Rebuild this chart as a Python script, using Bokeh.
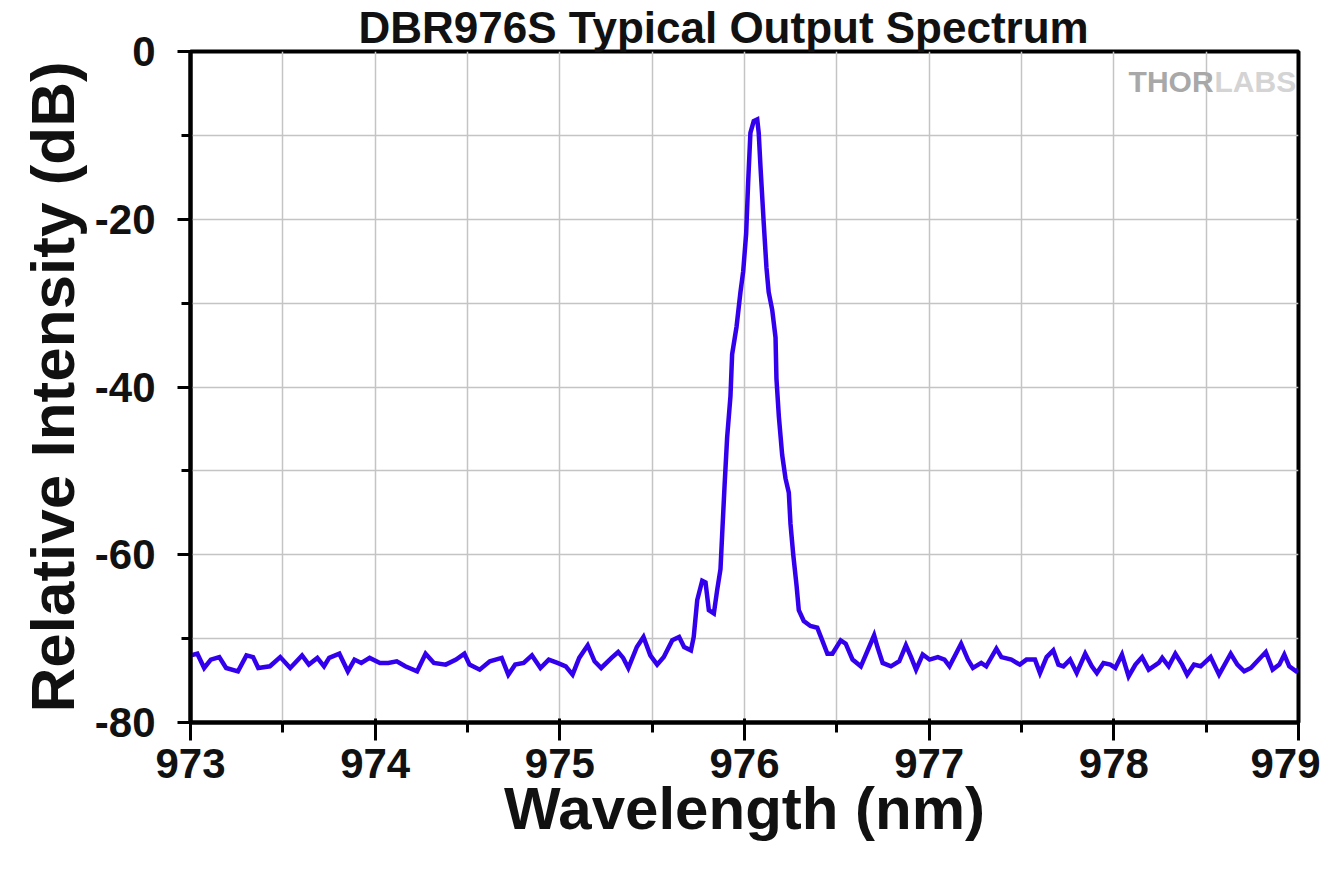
from bokeh.plotting import figure
from bokeh.models import FixedTicker, Range1d, Label, ColumnDataSource
from bokeh.embed import file_html
from bokeh.resources import INLINE

title_text = "DBR976S Typical Output Spectrum"
x_label = "Wavelength (nm)"
y_label = "Relative Intensity (dB)"

x_ticks = [973, 974, 975, 976, 977, 978, 979]
x_minor = [973.5, 974.5, 975.5, 976.5, 977.5, 978.5]
y_ticks = [-80, -60, -40, -20, 0]
y_minor = [-70, -50, -30, -10]
y_tick_text = {-80: "-80", -60: "-60", -40: "-40", -20: "-20", 0: "0"}

# noise floor, short-wavelength side
wl_left = [973.000, 973.037, 973.074, 973.110, 973.156, 973.193, 973.257, 973.303, 973.339, 973.367,
           973.430, 973.486, 973.540, 973.604, 973.641, 973.687, 973.723, 973.751, 973.806, 973.852,
           973.888, 973.925, 973.970, 974.026, 974.071, 974.117, 974.163, 974.227, 974.273, 974.318,
           974.382, 974.438, 974.483, 974.511, 974.566, 974.621, 974.685, 974.721, 974.758, 974.804,
           974.849, 974.895, 974.940, 974.987, 975.032, 975.069, 975.105, 975.151, 975.188, 975.224,
           975.280, 975.316, 975.343, 975.371, 975.417, 975.453, 975.490, 975.527, 975.563, 975.609,
           975.646, 975.673, 975.710]
db_left = [-72.0, -71.8, -73.5, -72.5, -72.2, -73.5, -73.9, -72.0, -72.2, -73.5,
           -73.3, -72.2, -73.5, -72.0, -73.1, -72.3, -73.3, -72.3, -71.8, -73.9,
           -72.5, -72.9, -72.3, -72.9, -72.9, -72.7, -73.3, -73.9, -71.8, -72.9,
           -73.1, -72.5, -71.8, -73.1, -73.7, -72.7, -72.3, -74.3, -73.1, -72.9,
           -72.0, -73.5, -72.5, -72.9, -73.3, -74.3, -72.3, -70.8, -72.7, -73.5,
           -72.3, -71.6, -72.3, -73.5, -71.0, -69.8, -72.0, -73.1, -72.2, -70.2,
           -69.8, -71.0, -71.4]

# main lasing peak
wl_peak = [975.725, 975.744, 975.771, 975.789, 975.807, 975.834, 975.852, 975.870, 975.879, 975.892,
           975.906, 975.924, 975.933, 975.957, 975.978, 975.993, 976.009, 976.020, 976.032, 976.050,
           976.069, 976.077, 976.087, 976.104, 976.119, 976.131, 976.150, 976.168, 976.173, 976.186,
           976.204, 976.222, 976.240, 976.249, 976.264, 976.282, 976.294, 976.321, 976.357, 976.394]
db_peak = [-69.8, -65.4, -63.1, -63.3, -66.6, -67.0, -64.2, -61.7, -57.6, -51.8,
           -46.0, -41.1, -36.1, -32.8, -28.7, -26.2, -21.7, -15.5, -9.7, -8.3,
           -8.1, -9.7, -13.9, -20.4, -25.8, -28.7, -30.8, -34.1, -39.0, -43.5,
           -48.1, -50.9, -52.6, -56.3, -60.0, -63.7, -66.6, -67.9, -68.5, -68.7]

# noise floor, long-wavelength side
wl_right = [976.421, 976.449, 976.476, 976.521, 976.548, 976.585, 976.630, 976.675, 976.702, 976.720,
            976.748, 976.793, 976.838, 976.874, 976.902, 976.929, 976.965, 977.002, 977.047, 977.083,
            977.110, 977.173, 977.210, 977.237, 977.282, 977.309, 977.364, 977.391, 977.445, 977.491,
            977.527, 977.573, 977.600, 977.636, 977.672, 977.700, 977.727, 977.763, 977.799, 977.845,
            977.881, 977.908, 977.944, 977.981, 978.008, 978.044, 978.080, 978.117, 978.153, 978.189,
            978.243, 978.262, 978.297, 978.333, 978.370, 978.397, 978.434, 978.470, 978.524, 978.570,
            978.633, 978.669, 978.706, 978.742, 978.823, 978.860, 978.896, 978.923, 978.950, 978.987,
            979.000]
db_right = [-70.2, -71.8, -71.8, -70.2, -70.6, -72.5, -73.3, -71.0, -69.6, -71.0,
            -72.9, -73.3, -72.7, -70.8, -72.2, -73.7, -71.9, -72.5, -72.2, -72.5,
            -73.3, -70.6, -72.5, -73.5, -72.9, -73.3, -71.2, -72.2, -72.5, -73.1,
            -72.5, -72.5, -74.1, -72.2, -71.4, -73.1, -73.3, -72.5, -74.1, -71.8,
            -73.3, -74.1, -72.9, -73.1, -73.5, -71.9, -74.5, -73.1, -72.2, -73.7,
            -72.9, -72.3, -73.3, -71.8, -73.1, -74.3, -73.1, -73.3, -72.2, -74.3,
            -71.8, -73.1, -73.9, -73.5, -71.6, -73.7, -73.1, -71.9, -73.3, -73.9,
            -73.7]

wavelength = wl_left + wl_peak + wl_right
intensity = db_left + db_peak + db_right

FONT = "Liberation Sans"
INK = "#111111"

p = figure(width=1320, height=856,
           x_range=Range1d(973, 979), y_range=Range1d(-80, 0),
           output_backend="svg", toolbar_location=None,
           min_border_left=190, min_border_top=50, min_border_right=22, min_border_bottom=134)

p.background_fill_color = "white"
p.border_fill_color = "white"
p.outline_line_color = "black"
p.outline_line_width = 4

# title
p.title.text = title_text
p.title.align = "left"
p.title.offset = 168
p.title.standoff = 0
p.title.text_font = FONT
p.title.text_font_style = "bold"
p.title.text_font_size = "44px"
p.title.text_color = INK

src = ColumnDataSource(dict(x=wavelength, y=intensity))
p.line("x", "y", source=src, line_color="#3300ee", line_width=4.5, line_join="miter")

p.xaxis.ticker = FixedTicker(ticks=x_ticks, minor_ticks=x_minor)
p.yaxis.ticker = FixedTicker(ticks=y_ticks, minor_ticks=y_minor)
p.yaxis.major_label_overrides = y_tick_text

for g in (p.xgrid, p.ygrid):
    g.grid_line_color = "#c4c4c4"
    g.grid_line_width = 1.5
    g.minor_grid_line_color = "#c4c4c4"
    g.minor_grid_line_width = 1.5

for ax in (p.xaxis, p.yaxis):
    ax.axis_line_color = "black"
    ax.axis_line_width = 4
    ax.major_tick_line_color = "black"
    ax.major_tick_line_width = 3
    ax.minor_tick_line_color = "black"
    ax.minor_tick_line_width = 3
    ax.major_label_text_font = FONT
    ax.major_label_text_font_style = "bold"
    ax.major_label_text_font_size = "42px"
    ax.major_label_text_color = INK
    ax.axis_label_text_font = FONT
    ax.axis_label_text_font_style = "bold"
    ax.axis_label_text_color = INK

p.xaxis.axis_label = x_label
p.yaxis.axis_label = y_label

p.xaxis.major_tick_in = 4
p.xaxis.major_tick_out = 18
p.xaxis.minor_tick_in = 0
p.xaxis.minor_tick_out = 10
p.xaxis.major_label_standoff = 8
p.xaxis.axis_label_standoff = -6
p.xaxis.axis_label_text_font_size = "60px"

p.yaxis.major_tick_in = 0
p.yaxis.major_tick_out = 13
p.yaxis.minor_tick_in = 0
p.yaxis.minor_tick_out = 9
p.yaxis.major_label_standoff = 22
p.yaxis.axis_label_standoff = 5
p.yaxis.axis_label_text_font_size = "62px"

logo1 = Label(x=978.08, y=0, y_offset=-30, text="THOR", text_align="left", text_baseline="alphabetic",
              text_font=FONT, text_font_style="bold", text_font_size="30px",
              text_color="#a8a8a8")
logo2 = Label(x=978.545, y=0, y_offset=-30, text="LABS", text_align="left", text_baseline="alphabetic",
              text_font=FONT, text_font_style="bold", text_font_size="30px",
              text_color="#d4d4d4")
p.add_layout(logo1)
p.add_layout(logo2)

open("out.html", "w").write(file_html(p, INLINE))
